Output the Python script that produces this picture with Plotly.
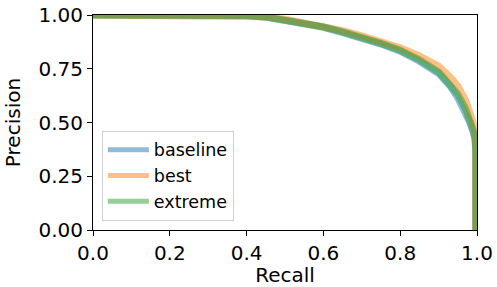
import plotly.graph_objects as go

recall = [0.0, 0.1, 0.2, 0.3, 0.35, 0.4, 0.45, 0.5, 0.55, 0.6, 0.65, 0.7, 0.75, 0.8,
          0.85, 0.9, 0.93, 0.95, 0.97, 0.98, 0.99, 0.995, 0.997, 0.997]
baseline = [1.0, 1.0, 1.0, 1.0, 1.0, 0.998, 0.99, 0.975, 0.958, 0.943, 0.918, 0.893, 0.865, 0.832,
            0.785, 0.728, 0.67, 0.615, 0.545, 0.505, 0.455, 0.42, 0.36, 0.0]
best = [1.0, 1.0, 1.0, 1.0, 1.0, 0.999, 0.992, 0.98, 0.965, 0.95, 0.927, 0.903, 0.877, 0.848,
        0.81, 0.762, 0.712, 0.67, 0.605, 0.56, 0.5, 0.45, 0.38, 0.0]
extreme = [1.0, 1.0, 1.0, 1.0, 1.0, 0.998, 0.991, 0.977, 0.961, 0.945, 0.921, 0.896, 0.868, 0.836,
           0.792, 0.735, 0.68, 0.632, 0.565, 0.52, 0.465, 0.43, 0.36, 0.0]

series = [("baseline", baseline, (31, 119, 180)),
          ("best", best, (255, 127, 14)),
          ("extreme", extreme, (44, 160, 44))]

x_ticks = [0.0, 0.2, 0.4, 0.6, 0.8, 1.0]
y_ticks = [0.0, 0.25, 0.5, 0.75, 1.0]

FONT = "DejaVu Sans"
fig = go.Figure()
for name, vals, (r, g, b) in series:
    col = f"rgba({r},{g},{b},0.5)"
    fig.add_trace(go.Scatter(x=recall, y=vals, mode="lines", name=name,
                             line=dict(color=col, width=7), showlegend=False,
                             hoverinfo="skip"))
for name, vals, (r, g, b) in series:
    col = f"rgba({r},{g},{b},0.5)"
    fig.add_trace(go.Scatter(x=[None], y=[None], mode="lines", name=name,
                             line=dict(color=col, width=5)))

axis_common = dict(showline=True, mirror=True, linecolor="black", linewidth=1,
                   ticks="outside", ticklen=5, tickwidth=1, tickcolor="black",
                   showgrid=False, zeroline=False, automargin=False,
                   ticklabeloverflow="allow", layer="above traces",
                   tickfont=dict(family=FONT, size=20, color="black"))

fig.update_layout(
    width=497, height=287,
    margin=dict(l=93, r=20, t=15, b=57),
    paper_bgcolor="white", plot_bgcolor="white",
    font=dict(family=FONT, color="black"),
    xaxis=dict(range=[0, 1], tickvals=x_ticks, tickformat=".1f",
               title=dict(text="Recall", font=dict(family=FONT, size=20, color="black"), standoff=9),
               **axis_common),
    yaxis=dict(range=[0, 1], tickvals=y_ticks, tickformat=".2f",
               title=dict(text="Precision", font=dict(family=FONT, size=20, color="black"), standoff=12),
               **axis_common),
    legend=dict(x=0.023, y=0.043, xanchor="left", yanchor="bottom",
                bgcolor="white", bordercolor="#d0d0d0", borderwidth=1,
                font=dict(family=FONT, size=17.5, color="black"),
                itemwidth=41, tracegroupgap=0),
    showlegend=True,
)
fig.write_html("out.html",
               config={"displayModeBar": False},
               post_script="document.body.style.margin='0px';document.body.style.overflow='hidden';")
